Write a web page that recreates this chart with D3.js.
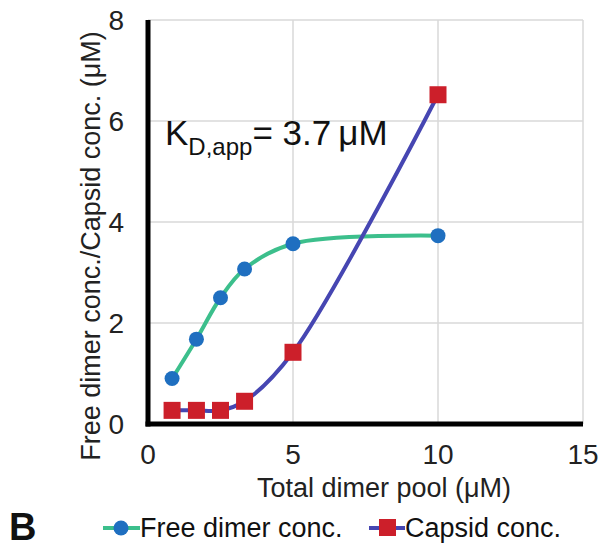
<!DOCTYPE html>
<html><head><meta charset="utf-8">
<script src="https://cdn.jsdelivr.net/npm/d3@7"></script>
<style>body{margin:0;background:#fff}svg{font-family:"Liberation Sans",Arial,sans-serif}</style>
</head><body><svg id="c" width="599" height="550"></svg>
<script>
const xVals = [0.83, 1.67, 2.5, 3.33, 5, 10];
const freeDimer = [0.9, 1.68, 2.5, 3.07, 3.57, 3.73];
const capsid = [0.27, 0.27, 0.27, 0.45, 1.42, 6.52];
const xTicks = [0, 5, 10, 15];
const yTicks = [0, 2, 4, 6, 8];
const seriesNames = ["Free dimer conc.", "Capsid conc."];

const svg = d3.select("#c");
const x = d3.scaleLinear().domain([0, 15]).range([148, 583]);
const y = d3.scaleLinear().domain([0, 8]).range([424, 20]);

// gridlines
svg.append("g").selectAll("line").data(xTicks.slice(1)).join("line")
  .attr("x1", d => x(d)).attr("x2", d => x(d)).attr("y1", y(0)).attr("y2", y(8))
  .attr("stroke", "#d9d9d9").attr("stroke-width", 1.5);
svg.append("g").selectAll("line").data(yTicks.slice(1)).join("line")
  .attr("x1", x(0)).attr("x2", x(15)).attr("y1", d => y(d)).attr("y2", d => y(d))
  .attr("stroke", "#d9d9d9").attr("stroke-width", 1.5);

// axes lines
svg.append("line").attr("x1", x(0)).attr("x2", x(0)).attr("y1", y(8)).attr("y2", y(0) + 2.5)
  .attr("stroke", "#000").attr("stroke-width", 5);
svg.append("line").attr("x1", x(0) - 2.5).attr("x2", x(15)).attr("y1", y(0)).attr("y2", y(0))
  .attr("stroke", "#000").attr("stroke-width", 5);

// tick labels
svg.append("g").selectAll("text").data(yTicks).join("text")
  .attr("x", 124).attr("y", d => y(d)).attr("dy", "0.35em").attr("text-anchor", "end")
  .attr("font-size", 28).attr("fill", "#222").text(d => d);
svg.append("g").selectAll("text").data(xTicks).join("text")
  .attr("x", d => x(d)).attr("y", 464).attr("text-anchor", "middle")
  .attr("font-size", 28).attr("fill", "#222").text(d => d);

// axis titles
svg.append("text").attr("x", 384).attr("y", 497).attr("text-anchor", "middle")
  .attr("font-size", 27).attr("fill", "#222").text("Total dimer pool (μM)");
svg.append("text").attr("transform", "translate(100,246) rotate(-90)").attr("text-anchor", "middle")
  .attr("font-size", 27).attr("fill", "#222").text("Free dimer conc./Capsid conc. (μM)");

// lines
const line = d3.line().x(d => x(d[0])).y(d => y(d[1])).curve(d3.curveCatmullRom.alpha(0.5));
const freePts = xVals.map((v, i) => [v, freeDimer[i]]);
const capPts = xVals.map((v, i) => [v, capsid[i]]);
svg.append("path").attr("d", line(freePts)).attr("fill", "none").attr("stroke", "#3cbf8c").attr("stroke-width", 4);
svg.append("path").attr("d", line(capPts)).attr("fill", "none").attr("stroke", "#4646b2").attr("stroke-width", 4);

svg.append("g").selectAll("circle").data(freePts).join("circle")
  .attr("cx", d => x(d[0])).attr("cy", d => y(d[1])).attr("r", 7.5).attr("fill", "#1f6fc0");
svg.append("g").selectAll("rect").data(capPts).join("rect")
  .attr("x", d => x(d[0]) - 8.5).attr("y", d => y(d[1]) - 8.5).attr("width", 17).attr("height", 17).attr("fill", "#cc1f2a");

// annotation
const ann = svg.append("text").attr("x", 165).attr("y", 145).attr("font-size", 35).attr("fill", "#111");
ann.append("tspan").text("K");
ann.append("tspan").attr("font-size", 24).attr("dy", 10).text("D,app");
ann.append("tspan").attr("dy", -10).text("= 3.7\u2009μM");

// B label
svg.append("text").attr("x", 9).attr("y", 540).attr("font-size", 38).attr("font-weight", "bold").attr("fill", "#111").text("B");

// legend
const lg = svg.append("g");
lg.append("line").attr("x1", 103).attr("x2", 140).attr("y1", 528).attr("y2", 528).attr("stroke", "#3cbf8c").attr("stroke-width", 4);
lg.append("circle").attr("cx", 121).attr("cy", 528).attr("r", 7.5).attr("fill", "#1f6fc0");
lg.append("text").attr("x", 140).attr("y", 537).attr("font-size", 27).attr("fill", "#111").text(seriesNames[0]);
lg.append("line").attr("x1", 369).attr("x2", 405).attr("y1", 528).attr("y2", 528).attr("stroke", "#4646b2").attr("stroke-width", 4);
lg.append("rect").attr("x", 379).attr("y", 519).attr("width", 17).attr("height", 17).attr("fill", "#cc1f2a");
lg.append("text").attr("x", 405).attr("y", 537).attr("font-size", 27).attr("fill", "#111").text(seriesNames[1]);
</script></body></html>
